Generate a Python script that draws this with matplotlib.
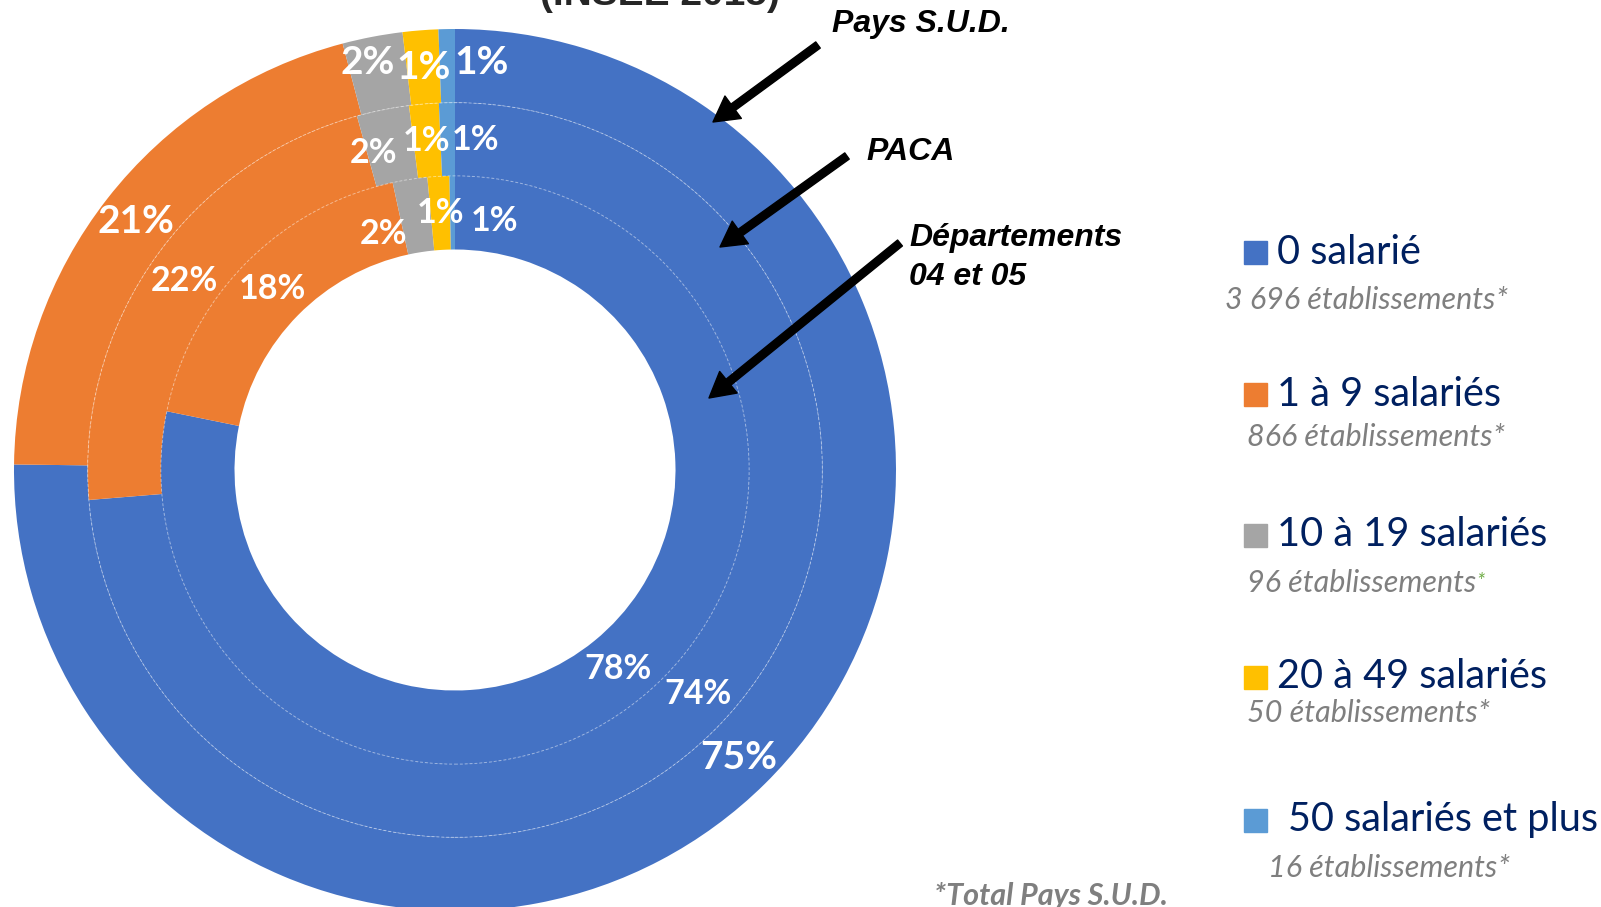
import matplotlib
matplotlib.use("Agg")
import matplotlib.pyplot as plt
import numpy as np
from matplotlib.patches import Circle

# Répartition des établissements par taille (INSEE 2015)
categories = ["0 salarié", "1 à 9 salariés", "10 à 19 salariés", "20 à 49 salariés", "50 salariés et plus"]
counts = ["3 696", "866", "96", "50", "16"]
colors = ["#4472C4", "#ED7D31", "#A5A5A5", "#FFC000", "#5B9BD5"]

pays_sud = [75.2, 20.7, 2.2, 1.3, 0.6]
paca = [73.7, 22.0, 2.3, 1.3, 0.7]
dep_04_05 = [78.2, 18.4, 1.9, 1.2, 0.3]

labels_pays_sud = ["75%", "21%", "2%", "1%", "1%"]
labels_paca = ["74%", "22%", "2%", "1%", "1%"]
labels_dep = ["78%", "18%", "2%", "1%", "1%"]

W, H = 1601, 907
fig = plt.figure(figsize=(W / 100, H / 100), dpi=100)


def fpos(x, y):
    # pixel (from top-left) -> figure fraction
    return x / W, 1 - y / H


# donut centre at (455, 470) px, outer radius 441 px
cx, cy, R = 455, 470, 441
ax = fig.add_axes([(cx - R) / W, (H - cy - R) / H, 2 * R / W, 2 * R / H])

rings = [
    (pays_sud, labels_pays_sud, 1.0, 28),
    (paca, labels_paca, 0.833, 24.5),
    (dep_04_05, labels_dep, 0.667, 24.5),
]
# small angular nudges (degrees, clockwise) / radius factors for crowded labels
nudges = {
    (0, 2): (-1.3, 1.03), (0, 4): (4.8, 1.01),
    (1, 2): (-3.0, 0.99), (1, 4): (4.8, 1.0),
    (2, 2): (-8.0, 0.96), (2, 4): (9.6, 0.98),
}

for ri, (vals, labs, r, fs) in enumerate(rings):
    wedges, _ = ax.pie(vals, radius=r, colors=colors, startangle=90, counterclock=False,
                       wedgeprops=dict(width=0.167, linewidth=0))
    rm = r - 0.167 / 2
    for wi, (w, lab) in enumerate(zip(wedges, labs)):
        mid = (w.theta1 + w.theta2) / 2
        dth, rf = nudges.get((ri, wi), (0, 1.0))
        ang = np.deg2rad(mid - dth)
        ax.text(rm * rf * np.cos(ang), rm * rf * np.sin(ang), lab, ha="center", va="center",
                color="white", fontsize=fs, fontweight="bold", family="Lato")

for r in [0.833, 0.667]:
    ax.add_patch(Circle((0, 0), r, fill=False, ec="white", lw=0.7, alpha=0.45, ls=(0, (3, 2))))

ax.set_xlim(-1, 1)
ax.set_ylim(-1, 1)
ax.axis("off")

# annotations with arrows
arrow = dict(facecolor="black", edgecolor="black", width=5.5, headwidth=20, headlength=18)
ann_font = dict(fontsize=23, fontweight="bold", style="italic", family="Liberation Sans", color="black")
fig.text(*fpos(832, 24), "Pays S.U.D.", va="center", ha="left", **ann_font)
fig.text(*fpos(866, 152), "PACA", va="center", ha="left", **ann_font)
fig.text(*fpos(909, 238), "Départements", va="center", ha="left", **ann_font)
fig.text(*fpos(909, 277), "04 et 05", va="center", ha="left", **ann_font)
fig.add_artist(plt.Annotation("", xy=fpos(713, 122), xytext=fpos(818, 45),
                              xycoords="figure fraction", arrowprops=arrow))
fig.add_artist(plt.Annotation("", xy=fpos(720, 247), xytext=fpos(847, 156),
                              xycoords="figure fraction", arrowprops=arrow))
fig.add_artist(plt.Annotation("", xy=fpos(709, 398), xytext=fpos(900, 243),
                              xycoords="figure fraction", arrowprops=arrow))

# title (mostly cropped at top)
fig.text(*fpos(660, 5), "(INSEE 2015)", ha="center", va="baseline", fontsize=28,
         fontweight="bold", family="Liberation Sans", color="#262626")

# legend
main_y = [252, 394, 535, 677, 820]
sub_y = [300, 437, 583, 713, 868]
main_x = [1277, 1277, 1277, 1277, 1288]
sub_x = [1225, 1247, 1247, 1247, 1268]
for i in range(len(categories)):
    x0, y0 = fpos(1244, main_y[i] - 11.5)
    fig.patches.append(plt.Rectangle((x0, y0 - 23 / H), 23 / W, 23 / H, transform=fig.transFigure,
                                     color=colors[i]))
    fig.text(*fpos(main_x[i], main_y[i]), categories[i], ha="left", va="center", fontsize=28.5,
             family="Lato", color="#002060")
    star_col = "#70AD47" if i == 2 else "#7F7F7F"
    t = fig.text(*fpos(sub_x[i], sub_y[i]), counts[i] + " établissements", ha="left", va="center",
                 fontsize=22, style="italic", family="Lato", color="#7F7F7F")
    if i == 2:
        fig.add_artist(plt.Annotation("*", xy=(1, 0.55), xycoords=t, ha="left", va="center",
                                      fontsize=15, style="italic", family="Lato", color=star_col))
    else:
        fig.add_artist(plt.Annotation("*", xy=(1, 0.5), xycoords=t, ha="left", va="center",
                                      fontsize=22, style="italic", family="Lato", color=star_col))

fig.text(*fpos(934, 896), "*Total Pays S.U.D.", ha="left", va="center", fontsize=22,
         fontweight="bold", style="italic", family="Lato", color="#7F7F7F")

fig.savefig("out.png", dpi=100)
